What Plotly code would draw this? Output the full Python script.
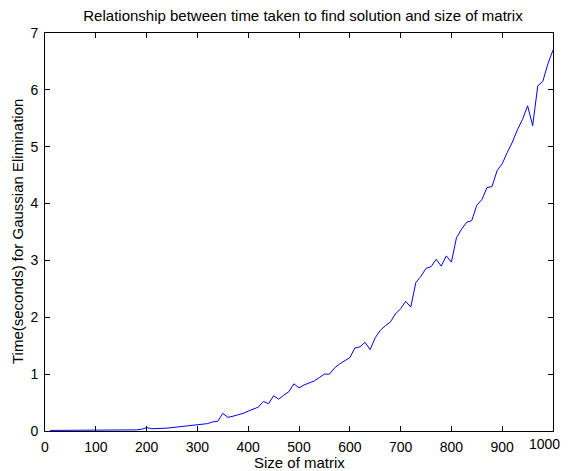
import plotly.graph_objects as go

sizes = list(range(10, 1001, 10))
times = [
    0.01, 0.01, 0.01, 0.01, 0.01, 0.01, 0.01, 0.01, 0.01, 0.01,
    0.01, 0.01, 0.01, 0.01, 0.01, 0.01, 0.015, 0.02, 0.03, 0.06,
    0.04, 0.04, 0.04, 0.05, 0.06, 0.07, 0.08, 0.08, 0.09, 0.10,
    0.11, 0.13, 0.16, 0.17, 0.31, 0.24, 0.26, 0.28, 0.31, 0.35,
    0.38, 0.42, 0.52, 0.48, 0.62, 0.56, 0.63, 0.69, 0.83, 0.76,
    0.81, 0.85, 0.88, 0.94, 1.00, 1.00, 1.11, 1.18, 1.23, 1.29,
    1.46, 1.48, 1.56, 1.43, 1.64, 1.77, 1.85, 1.92, 2.06, 2.15,
    2.28, 2.18, 2.61, 2.72, 2.86, 2.89, 3.02, 2.90, 3.08, 2.97,
    3.40, 3.55, 3.67, 3.70, 3.97, 4.07, 4.28, 4.30, 4.58, 4.70,
    4.90, 5.08, 5.30, 5.48, 5.72, 5.37, 6.07, 6.15, 6.46, 6.70,
]
x_ticks = list(range(0, 1001, 100))
x_tick_labels = [str(v) for v in x_ticks]
y_ticks = list(range(0, 8))

title = "Relationship between time taken to find solution and size of matrix"
x_label = "Size of matrix"
y_label = "Time(seconds) for Gaussian Elimination"

fig = go.Figure()
fig.add_trace(go.Scatter(x=sizes, y=times, mode="lines",
                         line=dict(color="#0000ff", width=1), showlegend=False))

font = dict(family="Liberation Sans, Arial, sans-serif", color="black")
axis_common = dict(showgrid=False, zeroline=False, showline=True, linecolor="black",
                   linewidth=1, mirror="ticks", ticks="inside", ticklen=5,
                   tickcolor="black", tickwidth=1, tickfont=dict(size=14, **font),
                   ticklabelstandoff=3)

W, H = 554, 463
plot_w, plot_h = 508, 398
# the last x tick label sits past the figure edge; draw it as a text pinned to the edge
shown_labels = x_tick_labels[:-1] + [""]

fig.update_layout(
    width=W, height=H,
    margin=dict(l=37, r=9, t=25, b=40),
    paper_bgcolor="white", plot_bgcolor="white",
    font=dict(size=14, **font),
    title=dict(text=title, x=295 / W, xanchor="center", y=1 - 7.5 / H, yanchor="middle",
               yref="container", font=dict(size=15, **font)),
    xaxis=dict(range=[0, 1000], tickvals=x_ticks, ticktext=shown_labels, **axis_common),
    yaxis=dict(range=[0, 7], tickvals=y_ticks, **axis_common),
    annotations=[
        dict(text=x_tick_labels[-1], xref="paper", yref="paper", x=(W - 37 - 0.5) / plot_w,
             y=-13 / plot_h, xanchor="right", yanchor="middle", showarrow=False,
             font=dict(size=14, **font)),
        dict(text=x_label, xref="paper", yref="paper", x=0.5, y=-32 / plot_h,
             xanchor="center", yanchor="middle", showarrow=False, font=dict(size=15, **font)),
        dict(text=y_label, xref="paper", yref="paper", x=-28 / plot_w, y=0.5, textangle=-90,
             xanchor="center", yanchor="middle", showarrow=False, font=dict(size=15, **font)),
    ],
)

fig.write_html("out.html")
